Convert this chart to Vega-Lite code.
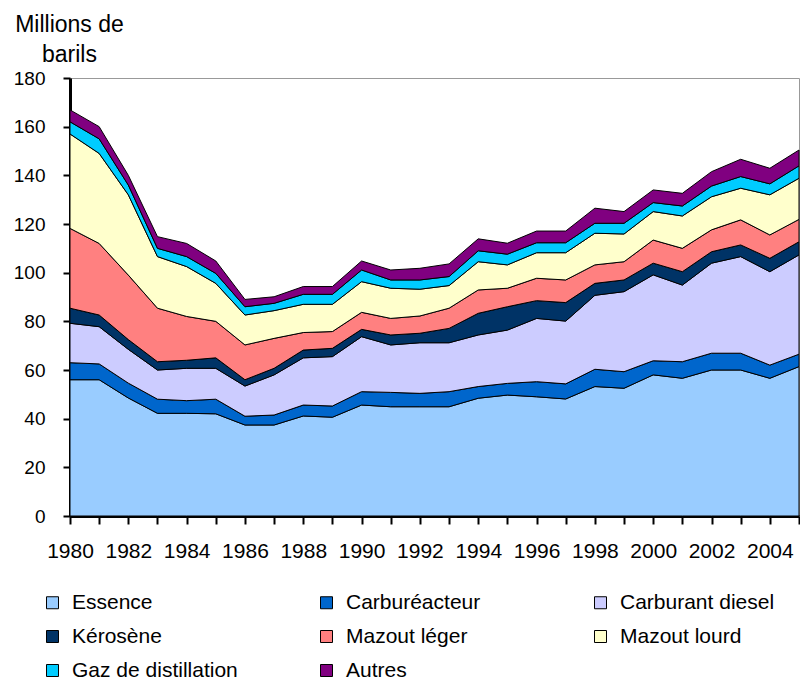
{
  "$schema": "https://vega.github.io/schema/vega-lite/v6.json",
  "width": 729,
  "height": 438,
  "autosize": {"type": "none"},
  "padding": {"left": 70, "top": 78, "right": 1, "bottom": 163},
  "background": "white",
  "config": {"font": "Liberation Sans", "view": {"stroke": "#999999", "strokeWidth": 1}},
  "data": {"values": [
    {"annee": 1980, "Essence": 56, "Carburéacteur": 7, "Carburant diesel": 16.2, "Kérosène": 6.2, "Mazout léger": 32.8, "Mazout lourd": 38.8, "Gaz de distillation": 5, "Autres": 4.9},
    {"annee": 1981, "Essence": 56, "Carburéacteur": 6.5, "Carburant diesel": 15.3, "Kérosène": 4.8, "Mazout léger": 29.4, "Mazout lourd": 37, "Gaz de distillation": 6, "Autres": 5},
    {"annee": 1982, "Essence": 48.5, "Carburéacteur": 6.1, "Carburant diesel": 13.9, "Kérosène": 4, "Mazout léger": 26.5, "Mazout lourd": 33, "Gaz de distillation": 4, "Autres": 4},
    {"annee": 1983, "Essence": 42.2, "Carburéacteur": 5.8, "Carburant diesel": 12, "Kérosène": 3.4, "Mazout léger": 22, "Mazout lourd": 21.2, "Gaz de distillation": 3.4, "Autres": 4.8},
    {"annee": 1984, "Essence": 42.2, "Carburéacteur": 5.2, "Carburant diesel": 13.3, "Kérosène": 3.3, "Mazout léger": 18, "Mazout lourd": 20.5, "Gaz de distillation": 4.1, "Autres": 5.4},
    {"annee": 1985, "Essence": 42, "Carburéacteur": 6, "Carburant diesel": 12.7, "Kérosène": 4.3, "Mazout léger": 15, "Mazout lourd": 15.6, "Gaz de distillation": 4.1, "Autres": 5.1},
    {"annee": 1986, "Essence": 37.4, "Carburéacteur": 3.6, "Carburant diesel": 12.4, "Kérosène": 2.6, "Mazout léger": 14.3, "Mazout lourd": 12.3, "Gaz de distillation": 3.4, "Autres": 3},
    {"annee": 1987, "Essence": 37.4, "Carburéacteur": 4.1, "Carburant diesel": 16.5, "Kérosène": 2.7, "Mazout léger": 12.3, "Mazout lourd": 11.4, "Gaz de distillation": 3, "Autres": 2.7},
    {"annee": 1988, "Essence": 41.1, "Carburéacteur": 4.5, "Carburant diesel": 19.4, "Kérosène": 3.2, "Mazout léger": 7.2, "Mazout lourd": 11.6, "Gaz de distillation": 4.1, "Autres": 3.2},
    {"annee": 1989, "Essence": 40.6, "Carburéacteur": 4.6, "Carburant diesel": 20.3, "Kérosène": 3.4, "Mazout léger": 6.9, "Mazout lourd": 11.2, "Gaz de distillation": 4.1, "Autres": 3.2},
    {"annee": 1990, "Essence": 45.6, "Carburéacteur": 5.5, "Carburant diesel": 22.6, "Kérosène": 3, "Mazout léger": 7, "Mazout lourd": 12.6, "Gaz de distillation": 4.8, "Autres": 3.7},
    {"annee": 1991, "Essence": 44.9, "Carburéacteur": 5.9, "Carburant diesel": 19.5, "Kérosène": 4.1, "Mazout léger": 6.8, "Mazout lourd": 12.4, "Gaz de distillation": 3.4, "Autres": 4.1},
    {"annee": 1992, "Essence": 44.9, "Carburéacteur": 5.5, "Carburant diesel": 20.8, "Kérosène": 3.9, "Mazout léger": 7.1, "Mazout lourd": 11, "Gaz de distillation": 3.8, "Autres": 4.8},
    {"annee": 1993, "Essence": 44.9, "Carburéacteur": 6.2, "Carburant diesel": 20.1, "Kérosène": 5.9, "Mazout léger": 8.3, "Mazout lourd": 9.3, "Gaz de distillation": 3.7, "Autres": 5.2},
    {"annee": 1994, "Essence": 48.4, "Carburéacteur": 4.8, "Carburant diesel": 21.2, "Kérosène": 8.9, "Mazout léger": 9.6, "Mazout lourd": 11.6, "Gaz de distillation": 4.5, "Autres": 4.9},
    {"annee": 1995, "Essence": 49.7, "Carburéacteur": 4.8, "Carburant diesel": 21.9, "Kérosène": 9.6, "Mazout léger": 7.6, "Mazout lourd": 9.6, "Gaz de distillation": 4.4, "Autres": 4.5},
    {"annee": 1996, "Essence": 49, "Carburéacteur": 6.2, "Carburant diesel": 26, "Kérosène": 7.3, "Mazout léger": 9.2, "Mazout lourd": 10.5, "Gaz de distillation": 4.1, "Autres": 4.8},
    {"annee": 1997, "Essence": 48.1, "Carburéacteur": 6.2, "Carburant diesel": 25.8, "Kérosène": 7.6, "Mazout léger": 9.3, "Mazout lourd": 11.2, "Gaz de distillation": 4.1, "Autres": 4.8},
    {"annee": 1998, "Essence": 53.2, "Carburéacteur": 7.1, "Carburant diesel": 30.4, "Kérosène": 4.9, "Mazout léger": 7.6, "Mazout lourd": 13, "Gaz de distillation": 4.1, "Autres": 6.2},
    {"annee": 1999, "Essence": 52.5, "Carburéacteur": 6.8, "Carburant diesel": 32.9, "Kérosène": 4.8, "Mazout léger": 7.5, "Mazout lourd": 11.4, "Gaz de distillation": 4.4, "Autres": 4.8},
    {"annee": 2000, "Essence": 58, "Carburéacteur": 5.8, "Carburant diesel": 35.3, "Kérosène": 4.8, "Mazout léger": 9.5, "Mazout lourd": 11.7, "Gaz de distillation": 3.7, "Autres": 5.2},
    {"annee": 2001, "Essence": 56.6, "Carburéacteur": 6.8, "Carburant diesel": 31.5, "Kérosène": 5.5, "Mazout léger": 9.6, "Mazout lourd": 13.3, "Gaz de distillation": 4.1, "Autres": 5.2},
    {"annee": 2002, "Essence": 60, "Carburéacteur": 6.9, "Carburant diesel": 37, "Kérosène": 4.7, "Mazout léger": 9, "Mazout lourd": 13.6, "Gaz de distillation": 4.4, "Autres": 5.9},
    {"annee": 2003, "Essence": 60, "Carburéacteur": 6.9, "Carburant diesel": 39.7, "Kérosène": 4.8, "Mazout léger": 10.3, "Mazout lourd": 13, "Gaz de distillation": 4.8, "Autres": 7.1},
    {"annee": 2004, "Essence": 56.6, "Carburéacteur": 5.4, "Carburant diesel": 38.4, "Kérosène": 5.5, "Mazout léger": 9.6, "Mazout lourd": 16.5, "Gaz de distillation": 4.5, "Autres": 6.4},
    {"annee": 2005, "Essence": 61.4, "Carburéacteur": 5.1, "Carburant diesel": 40.8, "Kérosène": 5.4, "Mazout léger": 9.2, "Mazout lourd": 16.9, "Gaz de distillation": 5.1, "Autres": 6.5}
  ]},
  "transform": [
    {"fold": ["Essence", "Carburéacteur", "Carburant diesel", "Kérosène", "Mazout léger", "Mazout lourd", "Gaz de distillation", "Autres"], "as": ["type", "valeur"]},
    {"window": [{"op": "row_number", "as": "rang"}], "groupby": ["annee"]}
  ],
  "mark": {"type": "area", "stroke": "black", "strokeWidth": 1, "interpolate": "linear"},
  "encoding": {
    "x": {
      "field": "annee", "type": "quantitative",
      "scale": {"domain": [1980, 2005], "nice": false, "zero": false},
      "axis": {
        "title": null,
        "values": [1980,1981,1982,1983,1984,1985,1986,1987,1988,1989,1990,1991,1992,1993,1994,1995,1996,1997,1998,1999,2000,2001,2002,2003,2004,2005],
        "format": "d",
        "labelExpr": "datum.value % 2 == 0 && datum.value < 2005 ? datum.label : ''",
        "labelOverlap": false,
        "labelFlush": false,
        "labelFontSize": 21,
        "labelColor": "black",
        "labelPadding": 16,
        "tickSize": 8,
        "tickWidth": 2,
        "tickColor": "black",
        "domainColor": "black",
        "domainWidth": 3,
        "grid": false
      }
    },
    "y": {
      "field": "valeur", "type": "quantitative", "stack": "zero",
      "scale": {"domain": [0, 180], "nice": false},
      "axis": {
        "title": ["Millions de", "barils"],
        "titleAngle": 0,
        "titleX": -1,
        "titleY": -47,
        "titleAlign": "center",
        "titleBaseline": "alphabetic",
        "titleFontSize": 23,
        "titleFontWeight": "normal",
        "titleLineHeight": 30,
        "titleColor": "black",
        "values": [0, 20, 40, 60, 80, 100, 120, 140, 160, 180],
        "grid": false,
        "domainColor": "black",
        "domainWidth": 3,
        "tickColor": "black",
        "tickWidth": 2,
        "tickSize": 7,
        "labelFontSize": 19,
        "labelColor": "black",
        "labelPadding": 18
      }
    },
    "order": {"field": "rang", "type": "quantitative", "sort": "ascending"},
    "color": {
      "field": "type", "type": "nominal",
      "sort": ["Essence", "Carburéacteur", "Carburant diesel", "Kérosène", "Mazout léger", "Mazout lourd", "Gaz de distillation", "Autres"],
      "scale": {
        "domain": ["Essence", "Carburéacteur", "Carburant diesel", "Kérosène", "Mazout léger", "Mazout lourd", "Gaz de distillation", "Autres"],
        "range": ["#99CCFF", "#0066CC", "#CCCCFF", "#003366", "#FF8080", "#FFFFCC", "#00CCFF", "#800080"]
      },
      "legend": {
        "title": null,
        "orient": "none",
        "direction": "horizontal",
        "legendX": -28,
        "legendY": 514,
        "columns": 3,
        "gridAlign": "all",
        "columnPadding": 78,
        "rowPadding": 12,
        "symbolType": "square",
        "symbolSize": 144,
        "symbolStrokeColor": "black",
        "symbolStrokeWidth": 1,
        "symbolOpacity": 1,
        "labelFontSize": 21,
        "labelColor": "black",
        "labelOffset": 9,
        "labelLimit": 0,
        "padding": 0
      }
    }
  }
}
